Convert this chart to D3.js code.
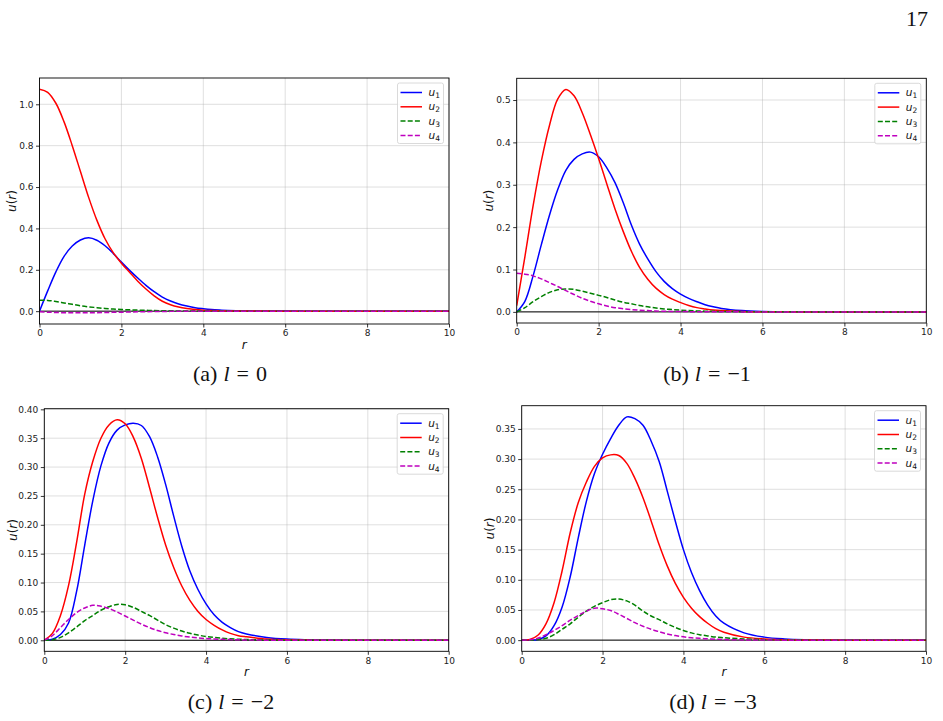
<!DOCTYPE html>
<html>
<head>
<meta charset="utf-8">
<script src="https://cdn.jsdelivr.net/npm/d3@7"></script>
<style>
  html, body { margin: 0; padding: 0; background: #ffffff; }
  svg { display: block; }
</style>
</head>
<body>
<svg id="chart" width="943" height="721"></svg>
<script>
// ---------------- DATA ----------------
const R = [0,0.2,0.4,0.6,0.8, 1.0,1.2,1.4,1.6,1.8, 2.0,2.2,2.4,2.6,2.8, 3.0,3.2,3.4,3.6,3.8, 4.0,4.2,4.4,4.6,4.8, 5.0,5.5,6,6.5,7,8,9,10];

// (a) l = 0
const a_u1 = [0,0.098,0.19,0.265,0.315, 0.344,0.355,0.343,0.316,0.279, 0.237,0.197,0.16,0.125,0.094, 0.068,0.049,0.035,0.025,0.017, 0.012,0.008,0.0055,0.0037,0.0025, 0.0017,0.0006,0.0002,0.0001,0,0,0,0];
const a_u2 = [1.073,1.058,1.005,0.915,0.8, 0.675,0.55,0.44,0.35,0.283, 0.232,0.188,0.145,0.107,0.074, 0.048,0.031,0.02,0.013,0.008, 0.005,0.0033,0.002,0.0013,0.0008, 0.0005,0.0002,0.0001,0,0,0,0,0];
const a_u3 = [0.053,0.052,0.047,0.04,0.033, 0.026,0.021,0.017,0.013,0.01, 0.008,0.0065,0.005,0.004,0.003, 0.0023,0.0017,0.0012,0.0009,0.0007, 0.0005,0.0004,0.0003,0.0002,0.0001, 0.0001,0,0,0,0,0,0,0];
const a_u4 = [-0.003,-0.005,-0.0065,-0.0075,-0.008, -0.008,-0.0078,-0.0072,-0.0065,-0.0057, -0.0049,-0.004,-0.0032,-0.0025,-0.0019, -0.0014,-0.001,-0.0007,-0.0005,-0.0003, -0.0002,-0.0001,-0.0001,0,0, 0,0,0,0,0,0,0,0];

// (b) l = -1
const b_u1 = [0,0.025,0.085,0.158,0.228, 0.288,0.334,0.36,0.373,0.377, 0.366,0.34,0.305,0.258,0.205, 0.16,0.125,0.095,0.072,0.055, 0.042,0.032,0.024,0.017,0.012, 0.008,0.003,0.001,0.0004,0.0001,0,0,0];
const b_u2 = [0.015,0.13,0.25,0.355,0.44, 0.502,0.525,0.51,0.47,0.418, 0.362,0.302,0.243,0.19,0.143, 0.105,0.077,0.056,0.041,0.03, 0.022,0.015,0.01,0.007,0.0045, 0.003,0.001,0.0003,0.0001,0,0,0,0];
const b_u3 = [0,0.01,0.024,0.036,0.046, 0.052,0.054,0.053,0.049,0.044, 0.039,0.034,0.028,0.023,0.019, 0.015,0.012,0.009,0.007,0.0055, 0.004,0.003,0.0023,0.0017,0.0013, 0.001,0.0005,0.0002,0.0001,0,0,0,0];
const b_u4 = [0.091,0.089,0.085,0.078,0.069, 0.06,0.05,0.041,0.032,0.025, 0.019,0.014,0.01,0.0075,0.0055, 0.004,0.003,0.002,0.0015,0.001, 0.0008,0.0006,0.0004,0.0003,0.0002, 0.0001,0,0,0,0,0,0,0];

// (c) l = -2
const c_u1 = [0,0.002,0.01,0.03,0.085, 0.165,0.242,0.302,0.342,0.364, 0.373,0.376,0.372,0.353,0.318, 0.27,0.215,0.163,0.12,0.088, 0.063,0.044,0.031,0.022,0.015, 0.011,0.005,0.002,0.0008,0.0003,0,0,0];
const c_u2 = [0,0.012,0.043,0.095,0.17, 0.253,0.31,0.35,0.373,0.382, 0.375,0.352,0.315,0.265,0.213, 0.165,0.126,0.094,0.069,0.05, 0.036,0.026,0.018,0.012,0.008, 0.006,0.002,0.0007,0.0003,0.0001,0,0,0];
const c_u3 = [0,0.001,0.005,0.013,0.023, 0.034,0.043,0.052,0.058,0.062, 0.0615,0.057,0.05,0.043,0.035, 0.027,0.021,0.016,0.012,0.009, 0.0065,0.0048,0.0035,0.0025,0.0018, 0.0013,0.0005,0.0002,0.0001,0,0,0,0];
const c_u4 = [0,0.008,0.022,0.036,0.048, 0.056,0.0605,0.059,0.055,0.049, 0.042,0.035,0.028,0.022,0.017, 0.013,0.01,0.0075,0.0055,0.004, 0.003,0.0022,0.0016,0.0012,0.0008, 0.0005,0.0002,0.0001,0,0,0,0,0];

// (d) l = -3
const d_u1 = [0,0,0.001,0.007,0.024, 0.055,0.105,0.17,0.23,0.276, 0.308,0.334,0.356,0.37,0.367, 0.356,0.33,0.296,0.247,0.197, 0.15,0.112,0.082,0.058,0.04, 0.028,0.012,0.005,0.002,0.0007,0,0,0];
const d_u2 = [0,0.001,0.008,0.027,0.062, 0.115,0.178,0.228,0.262,0.288, 0.302,0.307,0.306,0.293,0.268, 0.236,0.198,0.158,0.123,0.094, 0.071,0.053,0.039,0.028,0.019, 0.013,0.005,0.002,0.0007,0.0003,0,0,0];
const d_u3 = [0,0,0.001,0.003,0.009, 0.018,0.027,0.038,0.048,0.056, 0.062,0.067,0.068,0.065,0.058, 0.048,0.04,0.034,0.027,0.021, 0.016,0.012,0.009,0.007,0.005, 0.004,0.002,0.0008,0.0003,0,0,0,0];
const d_u4 = [0,0.0005,0.003,0.009,0.016, 0.024,0.033,0.041,0.048,0.053, 0.052,0.049,0.043,0.036,0.029, 0.023,0.018,0.014,0.01,0.0075, 0.0055,0.004,0.003,0.0022,0.0015, 0.001,0.0004,0.0001,0,0,0,0,0];

const seriesNames = ["1", "2", "3", "4"];
const xTicks = [0, 2, 4, 6, 8, 10];
const yTicksA = [0.0, 0.2, 0.4, 0.6, 0.8, 1.0];
const yTicksB = [0.0, 0.1, 0.2, 0.3, 0.4, 0.5];
const yTicksC = [0.00, 0.05, 0.10, 0.15, 0.20, 0.25, 0.30, 0.35, 0.40];
const yTicksD = [0.00, 0.05, 0.10, 0.15, 0.20, 0.25, 0.30, 0.35];
const captionLetters = ["a", "b", "c", "d"];
const captionL = ["0", "\u22121", "\u22122", "\u22123"];
const pageNumber = "17";

// ---------------- STYLE / LAYOUT ----------------
const styles = [
  { color: "#0000ff", dash: null },
  { color: "#ff0000", dash: null },
  { color: "#008000", dash: "5,2.2" },
  { color: "#bf00bf", dash: "5,2.2" }
];

const panels = [
  { box: { left: 39.5, right: 449, top: 78, bottom: 324 }, data: [a_u1, a_u2, a_u3, a_u4], yTicks: yTicksA, fmt: ".1f", xlabel: true,  ylabOff: 27.5, cap: { x: 230, y: 381 } },
  { box: { left: 516.7, right: 926.3, top: 78.3, bottom: 323 }, data: [b_u1, b_u2, b_u3, b_u4], yTicks: yTicksB, fmt: ".1f", xlabel: false, ylabOff: 28, cap: { x: 707, y: 381 } },
  { box: { left: 44.3, right: 448.7, top: 408.7, bottom: 651.3 }, data: [c_u1, c_u2, c_u3, c_u4], yTicks: yTicksC, fmt: ".2f", xlabel: true,  ylabOff: 31.5, cap: { x: 231, y: 709 } },
  { box: { left: 521.7, right: 926, top: 405.7, bottom: 651.3 }, data: [d_u1, d_u2, d_u3, d_u4], yTicks: yTicksD, fmt: ".2f", xlabel: true,  ylabOff: 32, cap: { x: 713, y: 709 } }
];

const svg = d3.select("#chart");
svg.append("rect").attr("width", 943).attr("height", 721).attr("fill", "#fff");

// page number
svg.append("text")
  .attr("x", 928).attr("y", 26)
  .attr("text-anchor", "end")
  .attr("font-family", "'Liberation Serif', 'DejaVu Serif', serif")
  .attr("font-size", 22)
  .attr("fill", "#111")
  .text(pageNumber);

panels.forEach((p, pi) => {
  const b = p.box;
  const all = p.data.flat();
  const lo = d3.min(all), hi = d3.max(all);
  const pad = (hi - lo) * 0.05;
  const x = d3.scaleLinear().domain([0, 10]).range([b.left, b.right]);
  const y = d3.scaleLinear().domain([lo - pad, hi + pad]).range([b.bottom, b.top]);

  const g = svg.append("g");
  const clipId = "clip" + pi;
  g.append("clipPath").attr("id", clipId)
    .append("rect").attr("x", b.left).attr("y", b.top)
    .attr("width", b.right - b.left).attr("height", b.bottom - b.top);

  // grid
  const grid = g.append("g");
  xTicks.forEach(t => {
    grid.append("line").attr("x1", x(t)).attr("x2", x(t))
      .attr("y1", b.top).attr("y2", b.bottom)
      .attr("stroke", "#b0b0b0").attr("stroke-opacity", 0.5).attr("stroke-width", 0.8);
  });
  p.yTicks.forEach(t => {
    grid.append("line").attr("y1", y(t)).attr("y2", y(t))
      .attr("x1", b.left).attr("x2", b.right)
      .attr("stroke", "#b0b0b0").attr("stroke-opacity", 0.5).attr("stroke-width", 0.8);
  });

  // axhline at 0
  g.append("line").attr("x1", b.left).attr("x2", b.right)
    .attr("y1", y(0)).attr("y2", y(0))
    .attr("stroke", "#000").attr("stroke-width", 1);

  // curves
  const line = d3.line().x(d => x(d[0])).y(d => y(d[1])).curve(d3.curveCatmullRom.alpha(0.5));
  const curves = g.append("g").attr("clip-path", `url(#${clipId})`);
  p.data.forEach((arr, si) => {
    curves.append("path")
      .datum(d3.zip(R, arr))
      .attr("d", line)
      .attr("fill", "none")
      .attr("stroke", styles[si].color)
      .attr("stroke-width", 1.5)
      .attr("stroke-dasharray", styles[si].dash);
  });

  // axes
  const xAxis = d3.axisBottom(x).tickValues(xTicks).tickFormat(d3.format("d")).tickSize(3.5).tickPadding(2.5);
  const yAxis = d3.axisLeft(y).tickValues(p.yTicks).tickFormat(d3.format(p.fmt)).tickSize(3.5).tickPadding(2.5);
  const gx = g.append("g").attr("transform", `translate(0,${b.bottom})`).call(xAxis);
  const gy = g.append("g").attr("transform", `translate(${b.left},0)`).call(yAxis);
  [gx, gy].forEach(ax => {
    ax.select(".domain").remove();
    ax.selectAll(".tick line").attr("stroke", "#000").attr("stroke-width", 0.8);
    ax.selectAll(".tick text")
      .attr("font-family", "'DejaVu Sans', sans-serif")
      .attr("font-size", 9)
      .attr("fill", "#222");
  });

  // spines
  g.append("rect").attr("x", b.left).attr("y", b.top)
    .attr("width", b.right - b.left).attr("height", b.bottom - b.top)
    .attr("fill", "none").attr("stroke", "#000").attr("stroke-width", 0.9);

  // y label
  const yl = g.append("text")
    .attr("transform", `translate(${b.left - p.ylabOff},${(b.top + b.bottom) / 2}) rotate(-90)`)
    .attr("text-anchor", "middle")
    .attr("dy", "0.35em")
    .attr("font-family", "'DejaVu Sans', sans-serif")
    .attr("font-size", 12)
    .attr("fill", "#111");
  yl.append("tspan").attr("font-style", "italic").text("u");
  yl.append("tspan").text("(");
  yl.append("tspan").attr("font-style", "italic").text("r");
  yl.append("tspan").text(")");

  // x label
  if (p.xlabel) {
    g.append("text")
      .attr("x", (b.left + b.right) / 2)
      .attr("y", b.bottom + 25)
      .attr("text-anchor", "middle")
      .attr("font-family", "'DejaVu Sans', sans-serif")
      .attr("font-size", 12)
      .attr("font-style", "italic")
      .attr("fill", "#111")
      .text("r");
  }

  // legend
  const lw = 46, lh = 60.5;
  const lx = b.right - 5.5 - lw, ly = b.top + 5;
  const leg = g.append("g");
  leg.append("rect").attr("x", lx).attr("y", ly).attr("width", lw).attr("height", lh)
    .attr("rx", 2).attr("fill", "#fff").attr("fill-opacity", 0.85)
    .attr("stroke", "#d0d0d0").attr("stroke-width", 0.8);
  seriesNames.forEach((nm, si) => {
    const yy = ly + 9.5 + si * 14.3;
    leg.append("line").attr("x1", lx + 3).attr("x2", lx + 24.5)
      .attr("y1", yy).attr("y2", yy)
      .attr("stroke", styles[si].color).attr("stroke-width", 1.5)
      .attr("stroke-dasharray", styles[si].dash);
    const t = leg.append("text").attr("x", lx + 31).attr("y", yy + 3.5)
      .attr("font-family", "'DejaVu Sans', sans-serif").attr("font-size", 10.5).attr("fill", "#111");
    t.append("tspan").attr("font-style", "italic").text("u");
    t.append("tspan").attr("font-size", 7.5).attr("dy", 2).text(nm);
  });

  // caption
  const cap = svg.append("text")
    .attr("x", p.cap.x).attr("y", p.cap.y)
    .attr("text-anchor", "middle")
    .attr("font-family", "'Liberation Serif', 'DejaVu Serif', serif")
    .attr("font-size", 22)
    .attr("fill", "#111");
  cap.append("tspan").text("(" + captionLetters[pi] + ")");
  cap.append("tspan").attr("dx", 6).attr("font-style", "italic").text("l");
  cap.append("tspan").attr("dx", 7).text("=");
  cap.append("tspan").attr("dx", 7).text(captionL[pi]);
});
</script>
</body>
</html>
